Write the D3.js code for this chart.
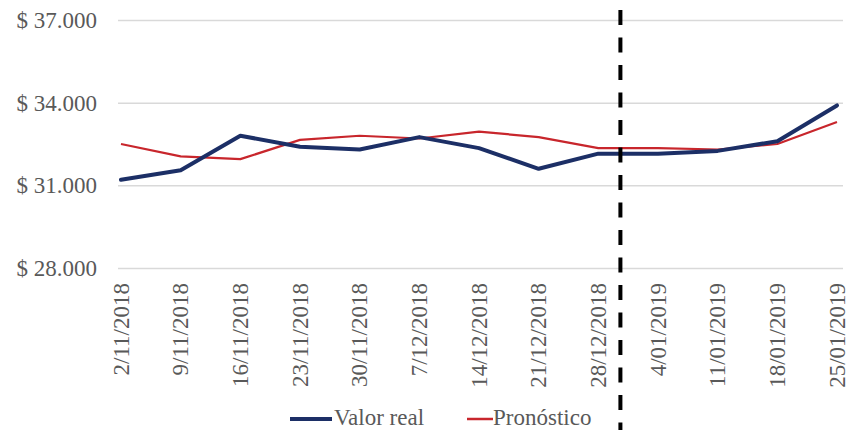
<!DOCTYPE html>
<html>
<head>
<meta charset="utf-8">
<script src="https://cdn.jsdelivr.net/npm/d3@7"></script>
<style>
  html, body { margin: 0; padding: 0; background: #fff; }
  svg { display: block; }
  svg text { font-family: "Times New Roman", Times, "Liberation Serif", Tinos, "DejaVu Serif", "Noto Serif", serif !important; }
</style>
</head>
<body>
<svg id="chart" width="848" height="430"></svg>
<script>
// Weekly dates (category axis)
const fechas = ["2/11/2018", "9/11/2018", "16/11/2018", "23/11/2018", "30/11/2018",
  "7/12/2018", "14/12/2018", "21/12/2018", "28/12/2018", "4/01/2019",
  "11/01/2019", "18/01/2019", "25/01/2019"];

// Observed values
const valorReal = [31200, 31550, 32800, 32400, 32300, 32750, 32350, 31600, 32150,
  32150, 32250, 32600, 33900];

// Forecast values
const pronostico = [32500, 32050, 31950, 32650, 32800, 32700, 32950, 32750, 32350,
  32350, 32300, 32500, 33300];

// Y-axis ticks
const yTicks = [28000, 31000, 34000, 37000];

// Last week before the forecast period
const corte = "28/12/2018";

const svg = d3.select("#chart");

const x = d3.scalePoint().domain(fechas).range([121, 837]);
const y = d3.scaleLinear().domain([28000, 37000]).range([268, 20]);

const fmt = v => "$ " + d3.format(",")(v).replace(/,/g, ".");

// Horizontal gridlines + value labels
const yAxis = d3.axisLeft(y).tickValues(yTicks).tickSize(-(843 - 118)).tickFormat(fmt).tickPadding(21);
const gy = svg.append("g").attr("transform", "translate(118,0)").call(yAxis)
  .attr("font-family", null);
gy.select(".domain").remove();
gy.selectAll(".tick line").attr("stroke", "#d9d9d9").attr("stroke-width", 1.5);
gy.selectAll(".tick text")
  .attr("fill", "#595959")
  .attr("font-size", 23);

// Rotated date labels
const xAxis = d3.axisBottom(x).tickSize(0).tickPadding(0);
const gx = svg.append("g").attr("transform", "translate(0,268)").call(xAxis)
  .attr("font-family", null);
gx.select(".domain").remove();
gx.selectAll(".tick text")
  .attr("fill", "#595959")
  .attr("font-size", 23)
  .attr("text-anchor", "end")
  .attr("transform", "translate(7,15) rotate(-90)")
  .attr("x", 0).attr("y", 0).attr("dy", 0);

// Series lines
const line = d3.line().x((d, i) => x(fechas[i])).y(d => y(d));

svg.append("path").datum(pronostico)
  .attr("fill", "none").attr("stroke", "#c8262c").attr("stroke-width", 2.2)
  .attr("stroke-linejoin", "round")
  .attr("d", line);

svg.append("path").datum(valorReal)
  .attr("fill", "none").attr("stroke", "#1c2f66").attr("stroke-width", 4)
  .attr("stroke-linejoin", "round").attr("stroke-linecap", "round")
  .attr("d", line);

// Dashed separator between fitted and forecast weeks
const xCorte = x(corte) + x.step() * 0.37;
svg.append("line")
  .attr("x1", xCorte).attr("x2", xCorte)
  .attr("y1", -17.5).attr("y2", 430)
  .attr("stroke", "#000").attr("stroke-width", 4)
  .attr("stroke-dasharray", "15,12.5");

// Legend
const legend = [
  { name: "Valor real", color: "#1c2f66", width: 4, x0: 290, x1: 332, tx: 334 },
  { name: "Pronóstico", color: "#c8262c", width: 2.5, x0: 467, x1: 493, tx: 493 }
];
const lg = svg.append("g");
legend.forEach(d => {
  lg.append("line").attr("x1", d.x0).attr("x2", d.x1).attr("y1", 419).attr("y2", 419)
    .attr("stroke", d.color).attr("stroke-width", d.width);
  lg.append("text").attr("x", d.tx).attr("y", 425)
    .attr("fill", "#595959").attr("font-size", 23).text(d.name);
});
</script>
</body>
</html>
